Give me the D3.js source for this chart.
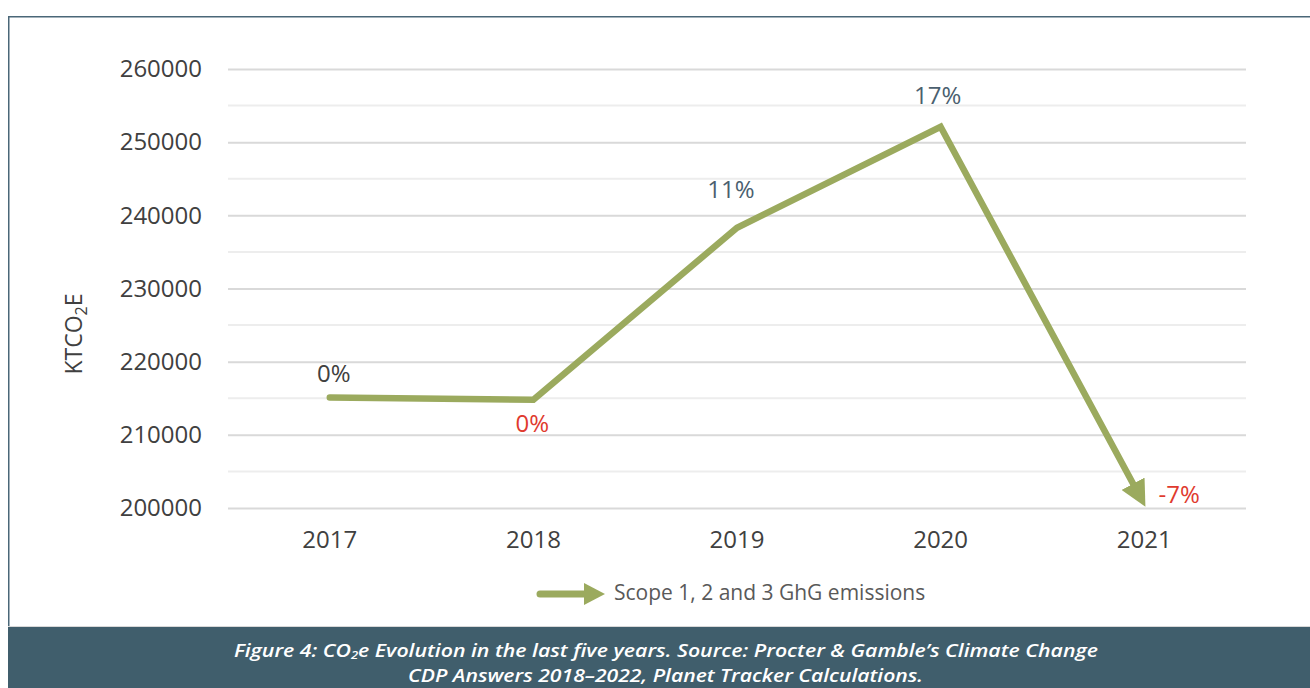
<!DOCTYPE html>
<html><head><meta charset="utf-8">
<script src="https://cdn.jsdelivr.net/npm/d3@7"></script>
<style>body{margin:0;background:#fff}svg{display:block}</style>
</head><body>
<svg id="c" width="1310" height="688"></svg>
<script>
const years = ["2017","2018","2019","2020","2021"];
const emissions = [215100, 214800, 238300, 252100, 200500];
const pctLabels = ["0%","0%","11%","17%","-7%"];
const pctColors = ["#404040","#e03a2e","#4b5f6f","#4b5f6f","#e03a2e"];
const yTicks = [200000,210000,220000,230000,240000,250000,260000];
const yMinor = [205000,215000,225000,235000,245000,255000];
const seriesName = "Scope 1, 2 and 3 GhG emissions";

const svg = d3.select("#c");
const green = "#9baa5e", dark = "#405e6c";

// frame
svg.append("path").attr("d","M8.75,627 V16.75 H1310").attr("fill","none").attr("stroke","#4a6778").attr("stroke-width",1.5);

const x = d3.scaleBand().domain(years).range([228,1246]);
const y = d3.scaleLinear().domain([200000,260000]).range([508,69]);

const g = svg.append("g");
g.selectAll(".minor").data(yMinor).join("line")
 .attr("x1",228).attr("x2",1246).attr("y1",d=>y(d)).attr("y2",d=>y(d))
 .attr("stroke","#ededed").attr("stroke-width",2);

const yAxis = g.append("g").attr("transform","translate(228,0)")
 .call(d3.axisLeft(y).tickValues(yTicks).tickSize(-1018).tickPadding(26).tickFormat(d3.format("d")));
yAxis.select(".domain").remove();
yAxis.selectAll(".tick line").attr("stroke","#d9d9d9").attr("stroke-width",2);
yAxis.selectAll(".tick text").attr("fill","#404040").style("font-family","'Open Sans'").style("font-size","24px");

const xAxis = g.append("g").attr("transform","translate(0,508)")
 .call(d3.axisBottom(x).tickSize(0).tickPadding(23));
xAxis.select(".domain").remove();
xAxis.selectAll(".tick text").attr("fill","#404040").style("font-family","'Open Sans'").style("font-size","24px");

// y label
svg.append("text").attr("transform","translate(82,334) rotate(-90)").attr("text-anchor","middle")
 .attr("fill","#404040").style("font-family","'Open Sans'").style("font-size","23px")
 .html('KTCO<tspan font-size="16" dy="5">2</tspan><tspan dy="-5">E</tspan>');

// arrow marker
const defs = svg.append("defs");
defs.append("marker").attr("id","arr").attr("viewBox","0 0 10 10").attr("refX",9).attr("refY",5)
 .attr("markerWidth",4).attr("markerHeight",4).attr("orient","auto").attr("markerUnits","strokeWidth")
 .append("path").attr("d","M0,0 L10,5 L0,10 z").attr("fill",green);

const pts = years.map((yr,i)=>[x(yr)+x.bandwidth()/2, y(emissions[i])]);
const line = d3.line();
const a = pts[3], b = pts[4];
const dx = b[0]-a[0], dy = b[1]-a[1], L = Math.hypot(dx,dy);
const sh = 18;
const linePts = pts.slice(0,4).concat([[b[0]-dx/L*sh, b[1]-dy/L*sh]]);
svg.append("path").attr("d",line(linePts)).attr("fill","none").attr("stroke",green)
 .attr("stroke-width",6.5).attr("stroke-linejoin","miter").attr("stroke-linecap","round");
svg.append("path").attr("d",line([[b[0]-dx/L*(sh+1), b[1]-dy/L*(sh+1)], b])).attr("fill","none")
 .attr("stroke",green).attr("stroke-opacity",0).attr("stroke-width",6.5).attr("marker-end","url(#arr)");

// labels
const offs = [[4,-22],[-1,26],[-6,-36],[-3,-29],[35,-8]];
svg.selectAll(".pl").data(pctLabels).join("text")
 .attr("x",(d,i)=>pts[i][0]+offs[i][0]).attr("y",(d,i)=>pts[i][1]+offs[i][1])
 .attr("text-anchor","middle").attr("dominant-baseline","middle")
 .attr("fill",(d,i)=>pctColors[i]).style("font-family","'Open Sans'").style("font-size","24px").text(d=>d);

// legend
const lg = svg.append("g");
lg.append("path").attr("d","M540,594 L586,594").attr("stroke",green).attr("stroke-width",7).attr("stroke-linecap","round");
lg.append("path").attr("d","M584,583 L605,594 L584,605 Z").attr("fill",green);
lg.append("text").attr("x",614).attr("y",594).attr("dominant-baseline","middle")
 .attr("fill","#595959").style("font-family","'Open Sans'").style("font-size","21px").text(seriesName);

// caption banner
svg.append("rect").attr("x",8).attr("y",627).attr("width",1302).attr("height",61).attr("fill",dark);
svg.append("line").attr("x1",8).attr("x2",1310).attr("y1",626.5).attr("y2",626.5).attr("stroke","#d8d8d8").attr("stroke-width",1);
const cap = svg.append("text").attr("fill","#fff").style("font-family","'Open Sans'").style("font-style","italic").style("font-weight","600").style("font-size","18px");
cap.html('<tspan x="234" y="657">Figure 4: CO</tspan><tspan font-size="11" dy="2">2</tspan><tspan dy="-2">e Evolution in the last five years. Source: Procter &amp; Gamble’s Climate Change</tspan>'
 + '<tspan x="408" y="682">CDP Answers 2018–2022, Planet Tracker Calculations.</tspan>');
const tsp = cap.selectAll("tspan").nodes();
const w1 = tsp[0].getComputedTextLength()+tsp[1].getComputedTextLength()+tsp[2].getComputedTextLength();
const s1 = 864/w1;
tsp.slice(0,3).forEach(n=>{n.setAttribute("textLength", n.getComputedTextLength()*s1); n.setAttribute("lengthAdjust","spacingAndGlyphs");});
tsp[3].setAttribute("textLength",515); tsp[3].setAttribute("lengthAdjust","spacingAndGlyphs");
</script>
</body></html>
